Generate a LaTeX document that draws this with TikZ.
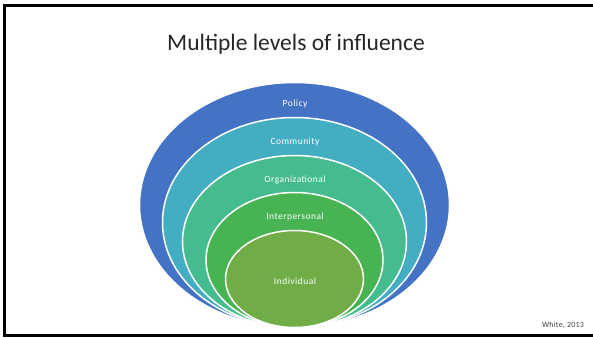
\documentclass[tikz,border=0pt]{standalone}
\usepackage{fontspec}
\setmainfont{Carlito}
\usepackage{xcolor}

\definecolor{policy}{HTML}{4472C4}
\definecolor{community}{HTML}{43AEC2}
\definecolor{organizational}{HTML}{44BC8E}
\definecolor{interpersonal}{HTML}{48B353}
\definecolor{individual}{HTML}{70AD47}

\begin{document}
\begin{tikzpicture}[x=1pt, y=-1pt,
    level/.style={draw=white, line width=1.5pt},
    levellabel/.style={text=white, font=\fontsize{9.5}{11}\selectfont\addfontfeature{LetterSpace=5}, inner sep=1pt}]
                \useasboundingbox (0,0) rectangle (593,337);
                \draw[line width=3pt] (593,5.5) -- (4.5,5.5) -- (4.5,335) -- (593,335);

                \node[text=black!85] (title) at (296,44) {\fontsize{23.5}{28}\selectfont Multiple levels of influence};

                % nested ellipses, all touching the bottom point
                \foreach \col/\a/\b in {policy/155/122.5, community/132/105, organizational/112/86,
                                        interpersonal/88.5/67.5, individual/69/48.5}
                    \filldraw[level, fill=\col] (294.5,327.5-\b) ellipse [x radius=\a, y radius=\b];

                \node[levellabel] (policy)         at (295,104) {Policy};
                \node[levellabel] (community)      at (295,142) {Community};
                \node[levellabel] (organizational) at (295,180) {Organizational};
                \node[levellabel] (interpersonal)  at (295,217) {Interpersonal};
                \node[levellabel] (individual)     at (295,281) {Individual};

                \node[font=\fontsize{8}{9}\selectfont\addfontfeature{LetterSpace=3}, text=black!75] (source) at (563,325) {White, 2013};
            \end{tikzpicture}
\end{document}
